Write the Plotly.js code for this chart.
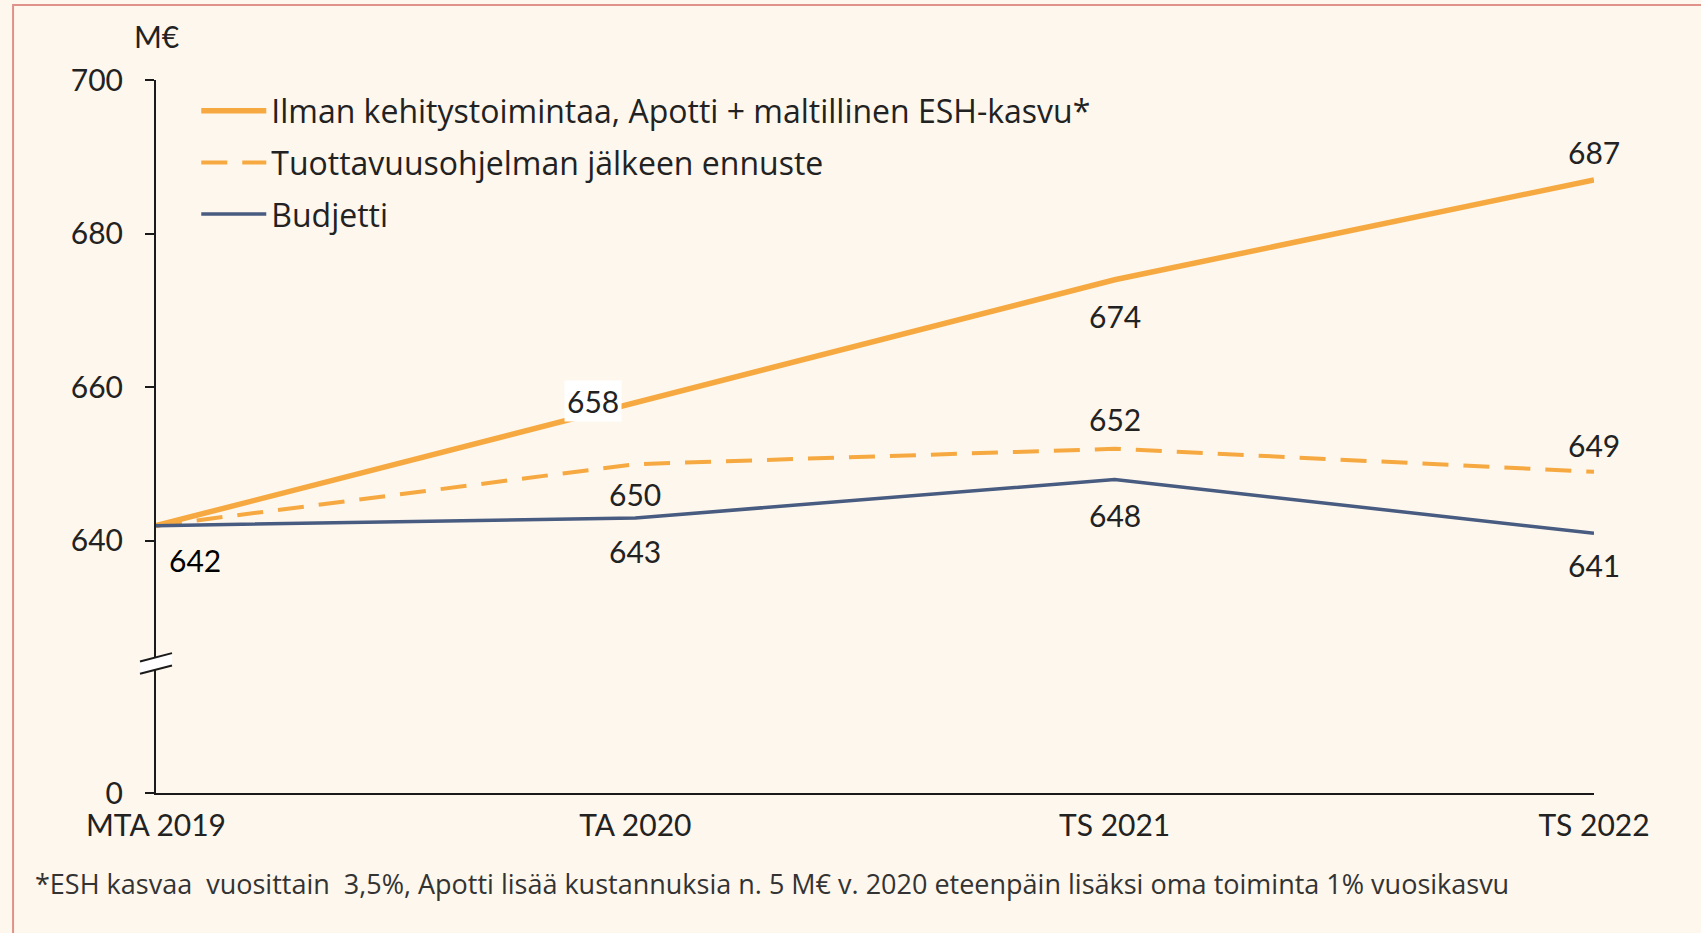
<!DOCTYPE html>
<html>
<head>
<meta charset="utf-8">
<script src="https://cdn.plot.ly/plotly-3.0.1.min.js"></script>
<style>
html,body{margin:0;padding:0;background:#fef7ed;}
#chart{width:1701px;height:933px;}
</style>
</head>
<body>
<div id="chart"></div>
<script>
// ---- data ----
const categories = ['MTA 2019', 'TA 2020', 'TS 2021', 'TS 2022'];
const seriesNames = [
  'Ilman kehitystoimintaa, Apotti + maltillinen ESH-kasvu*',
  'Tuottavuusohjelman jälkeen ennuste',
  'Budjetti'
];
const ilmanKehitys = [642, 658, 674, 687];
const tuottavuus = [642, 650, 652, 649];
const budjetti = [642, 643, 648, 641];
const yTickValues = [640, 660, 680, 700];
const yTickLabels = ['640', '660', '680', '700'];
const yAxisUnit = 'M€';
const footnote = '*ESH kasvaa  vuosittain  3,5%, Apotti lisää kustannuksia n. 5 M€ v. 2020 eteenpäin lisäksi oma toiminta 1% vuosikasvu';

// ---- style ----
const FONT = "Lato, 'Open Sans', sans-serif";
const WIDE_FONT = "'Open Sans', Lato, sans-serif";
const ORANGE = '#f6a940';
const NAVY = '#485b80';
const TEXT = '#222222';
const BG = '#fef7ed';
const AXIS_FLOOR = 607.2; // broken axis: bottom of the axis is shown as 0
const AXIS_TOP = 700;

// label offsets (pixels) per series and point: [xshift, yshift]
const offIlman = [null, [-42, 2], [0, -36], [0, 28]];
const offTuott = [null, [0, -30], [0, 30], [0, 27]];
const offBudj = [[39, -34], [0, -33], [0, -35], [0, -32]];

const traces = [
  {x: categories, y: ilmanKehitys, name: seriesNames[0], type: 'scatter', mode: 'lines',
   line: {color: ORANGE, width: 5.5}, legendgroup: 'a', legendrank: 1},
  {x: categories, y: tuottavuus, name: seriesNames[1], type: 'scatter', mode: 'lines',
   line: {color: ORANGE, width: 4, dash: '26px,15px'}, legendgroup: 'b', legendrank: 2},
  {x: categories, y: budjetti, name: seriesNames[2], type: 'scatter', mode: 'lines',
   line: {color: NAVY, width: 3.5}, legendgroup: 'c', legendrank: 3}
];

const annotations = [];
function addLabels(vals, offs, special) {
  vals.forEach((v, i) => {
    const o = offs[i];
    if (!o) return;
    const a = {x: categories[i], y: v, xref: 'x', yref: 'y', text: String(v), showarrow: false,
      xshift: o[0], yshift: o[1], font: {family: FONT, size: 30, color: TEXT}};
    if (special && special[i]) Object.assign(a, special[i]);
    annotations.push(a);
  });
}
addLabels(ilmanKehitys, offIlman, {1: {bgcolor: '#ffffff', borderpad: 2}});
addLabels(tuottavuus, offTuott);
addLabels(budjetti, offBudj, {0: {font: {family: FONT, size: 30, color: '#000000'}}});

annotations.push({xref: 'paper', yref: 'paper', x: 0.0, y: 1.062, xanchor: 'center', yanchor: 'middle',
  text: yAxisUnit, showarrow: false, font: {family: FONT, size: 30, color: TEXT}});
annotations.push({xref: 'paper', yref: 'paper', x: -0.0855, y: -0.1276, xanchor: 'left', yanchor: 'middle',
  text: footnote, showarrow: false, font: {family: WIDE_FONT, size: 27, color: '#333333'}});

const shapes = [
  // outer pink frame (left and top)
  {type: 'path', xref: 'paper', yref: 'paper', path: 'M -0.0994,-0.3 L -0.0994,1.1052 L 1.2,1.1052',
   line: {color: '#e0928a', width: 2}, layer: 'above'},
  // axis break
  {type: 'path', xref: 'paper', yref: 'paper', xsizemode: 'pixel', ysizemode: 'pixel',
   xanchor: 0, yanchor: 0.1816, path: 'M -16,2 L 16,10.4 L 16,-2 L -16,-10.3 Z',
   fillcolor: '#ffffff', line: {width: 0}, layer: 'above'},
  {type: 'path', xref: 'paper', yref: 'paper', xsizemode: 'pixel', ysizemode: 'pixel',
   xanchor: 0, yanchor: 0.1816, path: 'M -16,2 L 16,10.4', line: {color: '#1a1a1a', width: 2}, layer: 'above'},
  {type: 'path', xref: 'paper', yref: 'paper', xsizemode: 'pixel', ysizemode: 'pixel',
   xanchor: 0, yanchor: 0.1816, path: 'M -16,-10.3 L 16,-2', line: {color: '#1a1a1a', width: 2}, layer: 'above'}
];

const layout = {
  width: 1701, height: 933,
  margin: {l: 156, r: 107, t: 80, b: 140},
  paper_bgcolor: BG, plot_bgcolor: BG,
  font: {family: FONT, size: 30, color: TEXT},
  showlegend: true,
  legend: {x: 0.028, y: 0.995, xanchor: 'left', yanchor: 'top', bgcolor: 'rgba(0,0,0,0)',
    font: {family: WIDE_FONT, size: 32, color: TEXT}, tracegroupgap: 7, itemwidth: 65},
  xaxis: {type: 'category', range: [0, 3], showgrid: false, zeroline: false,
    showline: true, linecolor: '#1a1a1a', linewidth: 2, ticks: '',
    tickfont: {family: FONT, size: 30, color: TEXT}, ticklabelstandoff: 5, fixedrange: true},
  yaxis: {range: [AXIS_FLOOR, AXIS_TOP], showgrid: false, zeroline: false,
    showline: true, linecolor: '#1a1a1a', linewidth: 2, ticks: 'outside', ticklen: 9, tickwidth: 2,
    tickcolor: '#1a1a1a', tickmode: 'array',
    tickvals: [AXIS_FLOOR].concat(yTickValues), ticktext: ['0'].concat(yTickLabels),
    tickfont: {family: FONT, size: 30, color: TEXT}, ticklabelstandoff: 16, fixedrange: true},
  annotations: annotations,
  shapes: shapes
};

Plotly.newPlot('chart', traces, layout, {displayModeBar: false, staticPlot: true});
</script>
</body>
</html>
